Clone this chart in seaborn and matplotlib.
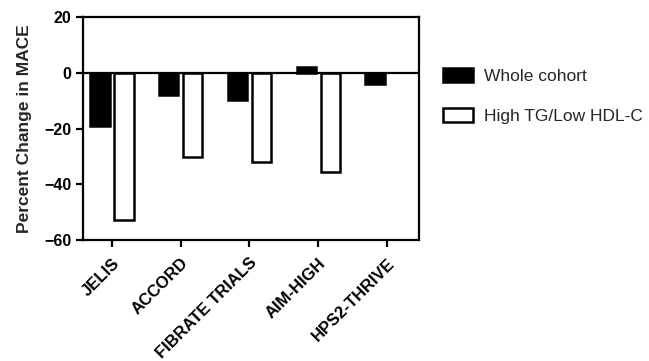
import numpy as np
import pandas as pd
import seaborn as sns
import matplotlib.pyplot as plt

# dados
trials = ['JELIS', 'ACCORD', 'FIBRATE TRIALS', 'AIM-HIGH', 'HPS2-THRIVE']
whole_cohort = [-19, -8, -9.8, 1.9, -4]
high_tg_low_hdl = [-52.7, -30.3, -31.9, -35.5, np.nan]
groups = ['Whole cohort', 'High TG/Low HDL-C']

df = pd.DataFrame({
    'trial': trials * 2,
    'change': whole_cohort + high_tg_low_hdl,
    'group': [groups[0]] * 5 + [groups[1]] * 5,
})

sns.set_style('ticks')
plt.rcParams['font.family'] = ['Liberation Sans', 'DejaVu Sans']

fig = plt.figure(figsize=(6.49, 3.61), dpi=100)
ax = fig.add_axes([0.128, 0.335, 0.518, 0.618])

sns.barplot(data=df, x='trial', y='change', hue='group', order=trials,
            hue_order=groups, palette={groups[0]: 'black', groups[1]: 'white'},
            edgecolor='black', linewidth=1.8, width=0.7, gap=0.2, ax=ax)

ax.axhline(0, color='black', linewidth=1.6, zorder=5)
ax.set_ylim(-60, 20)
ax.set_yticks([-60, -40, -20, 0, 20])
ax.set_xlim(-0.42, 4.47)
ax.set_xlabel('')
ax.set_ylabel('Percent Change in MACE', fontsize=12.5, fontweight='bold',
              labelpad=9)

for s in ax.spines.values():
    s.set_linewidth(1.6)
    s.set_color('black')
ax.tick_params(width=1.6, length=5, labelsize=11.5, colors='black')
ax.tick_params(axis='x', labelsize=12, pad=6)
plt.setp(ax.get_yticklabels(), fontweight='bold')
plt.setp(ax.get_xticklabels(), rotation=45, ha='right', rotation_mode='anchor',
         fontweight='bold')

handles, labels = ax.get_legend_handles_labels()
ax.legend(handles, labels, frameon=False, loc='upper left',
          bbox_to_anchor=(1.025, 0.84), fontsize=12.5, handlelength=1.7,
          handleheight=0.8, labelspacing=1.4, handletextpad=0.65)

fig.savefig('out.png', dpi=100)
